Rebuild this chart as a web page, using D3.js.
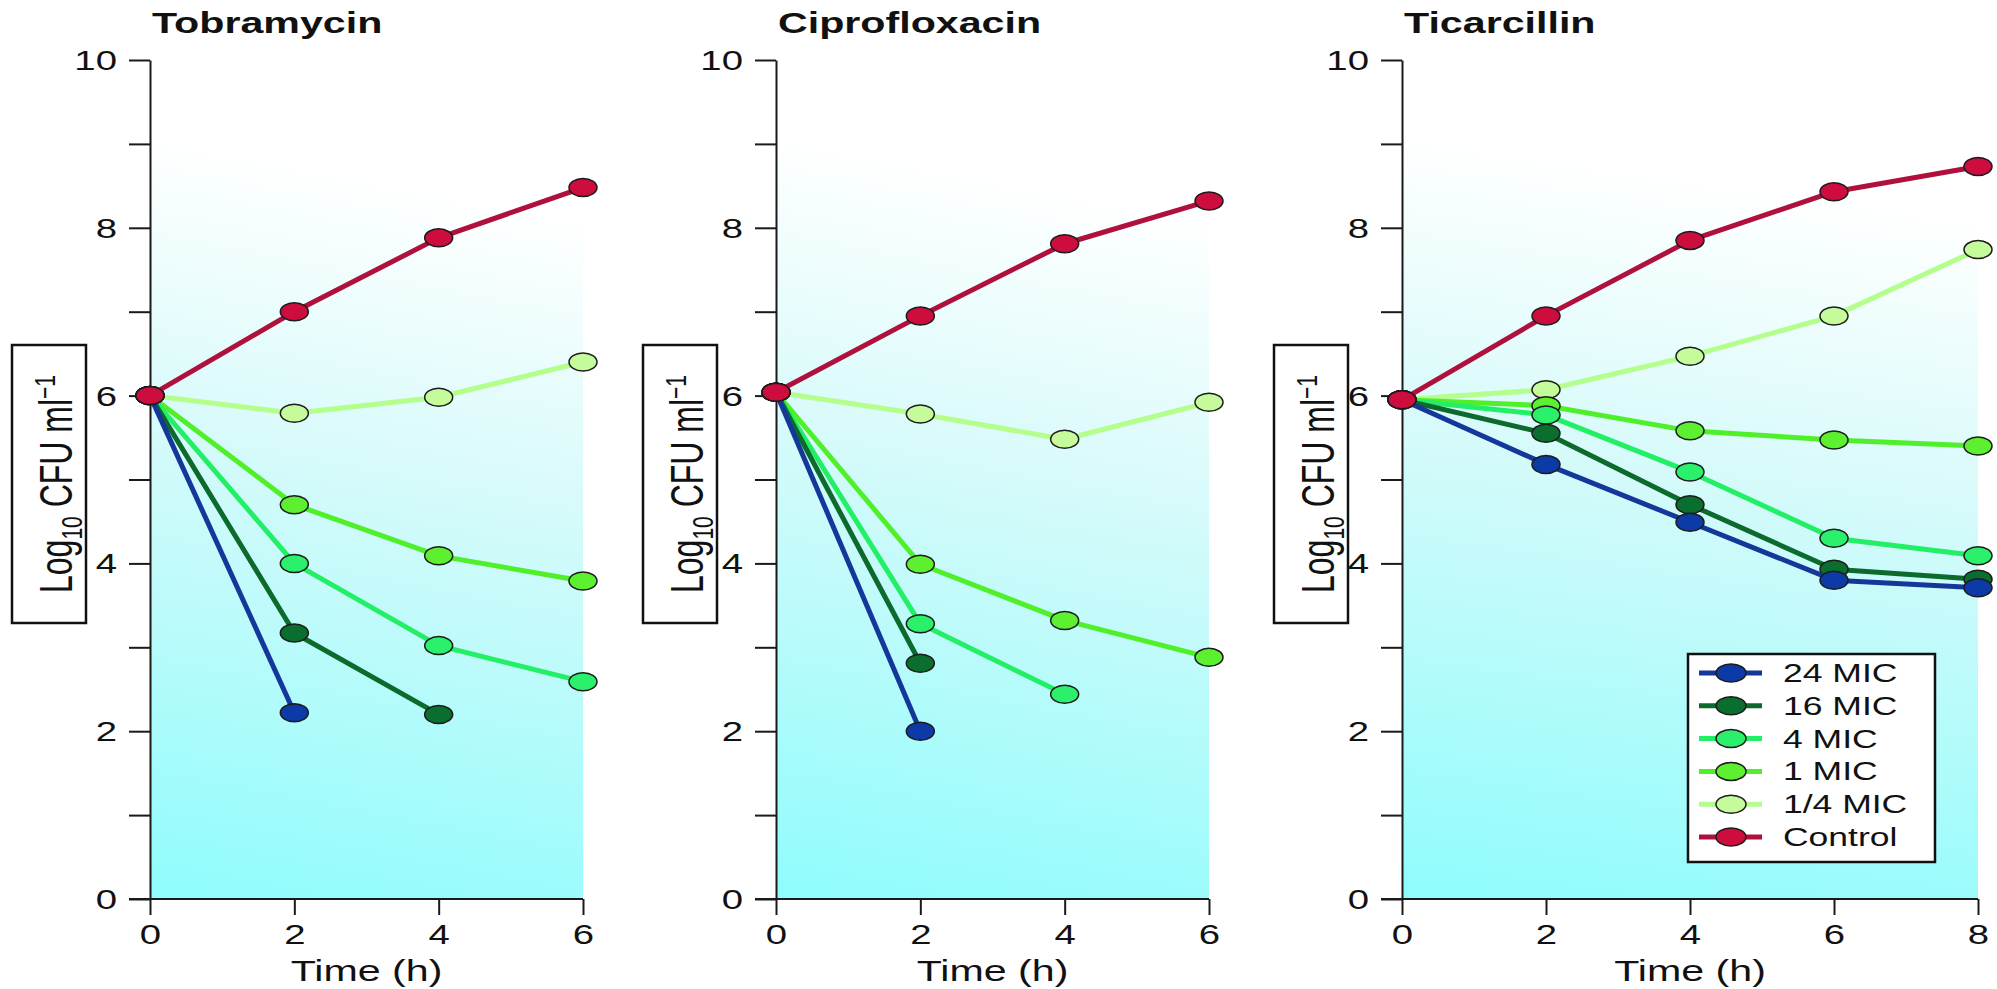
<!DOCTYPE html>
<html>
<head>
<meta charset="utf-8">
<script src="https://cdn.jsdelivr.net/npm/d3@7"></script>
<style>
  html, body { margin: 0; padding: 0; background: #fff; }
  text { font-family: "Liberation Sans", Arial, sans-serif; fill: #111; }
</style>
</head>
<body>
<svg id="chart" width="1997" height="989"></svg>
<script>
// series labels + colours (legend order)
const seriesNames = ["24 MIC", "16 MIC", "4 MIC", "1 MIC", "1/4 MIC", "Control"];
const lineColors  = ["#13389a", "#0b6a2c", "#22ee66", "#4ff02a", "#b4ff8c", "#b0103c"];
const dotColors   = ["#0c3aa6", "#0a6e2e", "#2af06c", "#5cf030", "#c6fb9c", "#cc0d3e"];

// Tobramycin
const tobTime = [0, 2, 4, 6];
const tob24   = [6.0, 2.22, null, null];
const tob16   = [6.0, 3.17, 2.2, null];
const tob4    = [6.0, 4.0, 3.02, 2.59];
const tob1    = [6.0, 4.7, 4.09, 3.79];
const tobQ    = [6.0, 5.79, 5.98, 6.4];
const tobCtrl = [6.0, 7.0, 7.88, 8.48];

// Ciprofloxacin
const cipTime = [0, 2, 4, 6];
const cip24   = [6.04, 2.0, null, null];
const cip16   = [6.04, 2.81, null, null];
const cip4    = [6.04, 3.28, 2.44, null];
const cip1    = [6.04, 3.99, 3.32, 2.88];
const cipQ    = [6.04, 5.78, 5.48, 5.92];
const cipCtrl = [6.04, 6.95, 7.81, 8.32];

// Ticarcillin
const ticTime = [0, 2, 4, 6, 8];
const tic24   = [5.95, 5.18, 4.49, 3.8, 3.71];
const tic16   = [5.95, 5.55, 4.7, 3.93, 3.81];
const tic4    = [5.95, 5.77, 5.09, 4.3, 4.09];
const tic1    = [5.95, 5.88, 5.58, 5.47, 5.4];
const ticQ    = [5.95, 6.07, 6.47, 6.95, 7.74];
const ticCtrl = [5.95, 6.95, 7.85, 8.43, 8.73];

const yTicks = [0, 1, 2, 3, 4, 5, 6, 7, 8, 9, 10];

const panels = [
  { title: "Tobramycin",    time: tobTime, values: [tob24, tob16, tob4, tob1, tobQ, tobCtrl], x0: 150,  x1: 583,  boxX: 12 },
  { title: "Ciprofloxacin", time: cipTime, values: [cip24, cip16, cip4, cip1, cipQ, cipCtrl], x0: 776,  x1: 1209, boxX: 643 },
  { title: "Ticarcillin",   time: ticTime, values: [tic24, tic16, tic4, tic1, ticQ, ticCtrl], x0: 1402, x1: 1978, boxX: 1274 }
];

const SX = 1.42;   // the picture is stretched sideways
const RX = 14, RY = 9;

const svg = d3.select("#chart");

// background gradient
const grad = svg.append("defs").append("linearGradient")
    .attr("id", "bg").attr("x1", 0.1).attr("y1", 0).attr("x2", 0).attr("y2", 1);
grad.append("stop").attr("offset", "0%").attr("stop-color", "#ffffff");
grad.append("stop").attr("offset", "10%").attr("stop-color", "#ffffff");
grad.append("stop").attr("offset", "45%").attr("stop-color", "#d6fafa");
grad.append("stop").attr("offset", "100%").attr("stop-color", "#8ffcfc");

var y = d3.scaleLinear().domain([0, 10]).range([899, 60]);

panels.forEach(function(p) {
  var tmax = d3.max(p.time);
  var x = d3.scaleLinear().domain([0, tmax]).range([p.x0, p.x1]);
  var g = svg.append("g");

  g.append("rect")
      .attr("x", x(0)).attr("y", y(10))
      .attr("width", x(tmax) - x(0)).attr("height", y(0) - y(10))
      .attr("fill", "url(#bg)");

  // y axis
  var ya = g.append("g")
      .attr("transform", "translate(" + x(0) + ",0)")
      .call(d3.axisLeft(y).tickValues(yTicks)
        .tickFormat(function(d) { return d % 2 === 0 ? d : ""; })
        .tickSize(21).tickSizeOuter(0));
  ya.selectAll("text")
      .attr("x", null).attr("dy", "0.35em")
      .attr("transform", "translate(-33,0) scale(" + SX + ",1)")
      .style("font-size", "27px").style("font-family", "Liberation Sans, Arial, sans-serif")
      .attr("fill", "#111");

  // x axis
  var xa = g.append("g")
      .attr("transform", "translate(0," + y(0) + ")")
      .call(d3.axisBottom(x).tickValues(p.time).tickFormat(d3.format("d"))
        .tickSize(16).tickSizeOuter(0));
  xa.selectAll("text")
      .attr("y", null).attr("dy", null)
      .attr("transform", "translate(0,45) scale(" + SX + ",1)")
      .style("font-size", "27px").style("font-family", "Liberation Sans, Arial, sans-serif")
      .attr("fill", "#111");
  xa.select(".domain").attr("d", "M" + (x(0) - 21) + ",0H" + x(tmax));

  g.selectAll(".domain, .tick line").attr("stroke", "#1a1a1a").attr("stroke-width", 2);

  // titles
  g.append("text")
      .attr("transform", "translate(" + (x(0) + 2) + ",33) scale(" + SX + ",1)")
      .style("font-size", "29px").style("font-weight", "bold")
      .text(p.title);

  g.append("text")
      .attr("text-anchor", "middle")
      .attr("transform", "translate(" + ((x(0) + x(tmax)) / 2) + ",981) scale(" + SX + ",1)")
      .style("font-size", "29px")
      .text("Time (h)");

  // y label in a box
  g.append("rect")
      .attr("x", p.boxX).attr("y", 345).attr("width", 74).attr("height", 278)
      .attr("fill", "#fff").attr("stroke", "#111").attr("stroke-width", 2.5);
  var lab = g.append("text")
      .attr("text-anchor", "middle")
      .attr("transform", "translate(" + (p.boxX + 60) + ",484) scale(" + SX + ",1) rotate(-90)")
      .style("font-size", "32px");
  lab.append("tspan").text("Log");
  lab.append("tspan").attr("dy", 7).style("font-size", "21px").text("10");
  lab.append("tspan").attr("dy", -7).text(" CFU ml");
  lab.append("tspan").attr("dy", -12).style("font-size", "21px").text("\u22121");

  // series, pale ones first so they sit underneath
  var order = [4, 3, 2, 1, 0, 5];
  var line = d3.line()
      .defined(function(d) { return d.v != null; })
      .x(function(d) { return x(d.t); })
      .y(function(d) { return y(d.v); });

  order.forEach(function(k) {
    var pts = p.time.map(function(t, i) { return { t: t, v: p.values[k][i] }; });
    g.append("path")
        .datum(pts)
        .attr("d", line)
        .attr("fill", "none")
        .attr("stroke", lineColors[k])
        .attr("stroke-width", 5)
        .attr("stroke-linejoin", "round");
    g.selectAll(".dot" + k)
      .data(pts.filter(function(d) { return d.v != null; }))
      .enter().append("ellipse")
        .attr("class", "dot" + k)
        .attr("cx", function(d) { return x(d.t); })
        .attr("cy", function(d) { return y(d.v); })
        .attr("rx", RX).attr("ry", RY)
        .attr("fill", dotColors[k])
        .attr("stroke", "#1c1c1c").attr("stroke-width", 1.5);
  });
});

// legend, in the last panel
var leg = svg.append("g").attr("transform", "translate(1688,654)");
leg.append("rect").attr("width", 247).attr("height", 208)
    .attr("fill", "#fff").attr("stroke", "#111").attr("stroke-width", 2.5);
var rows = leg.selectAll(".row").data(seriesNames).enter().append("g")
    .attr("class", "row")
    .attr("transform", function(d, i) { return "translate(0," + (19 + i * 32.8) + ")"; });
rows.append("line").attr("x1", 11).attr("x2", 74)
    .attr("stroke", function(d, i) { return lineColors[i]; }).attr("stroke-width", 5);
rows.append("ellipse").attr("cx", 43).attr("rx", 15).attr("ry", 9)
    .attr("fill", function(d, i) { return dotColors[i]; })
    .attr("stroke", "#1c1c1c").attr("stroke-width", 1.5);
rows.append("text")
    .attr("transform", "translate(95,0) scale(" + SX + ",1)")
    .attr("dy", "0.36em")
    .style("font-size", "25px")
    .text(function(d) { return d; });
</script>
</body>
</html>
